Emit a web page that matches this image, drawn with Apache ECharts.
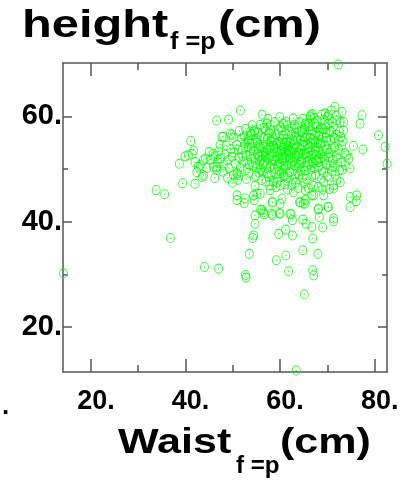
<!DOCTYPE html>
<html>
<head>
<meta charset="UTF-8">
<title>height vs waist</title>
<script type="text/javascript" src="https://cdn.jsdelivr.net/npm/echarts@6.0.0/dist/echarts.min.js"></script>
<style>
  html, body { margin: 0; padding: 0; background: #fff; }
</style>
</head>
<body>
<div id="main" style="width:407px;height:489px"></div>
<script type="text/javascript">
// waist (x) and height (y)
var waist = [
  14.2,72.3,63.4,36.8,44.0,47.0,52.8,52.7,53.5,54.2,
  54.7,59.2,61.2,61.8,64.8,68.0,66.9,67.1,65.1,59.7,
  61.2,62.6,66.9,55.9,56.6,58.4,58.4,59.8,60.0,62.3,
  62.6,64.1,64.8,65.3,65.5,66.7,68.0,68.3,69.0,70.1,
  71.3,74.8,76.1,50.9,52.4,54.5,33.8,35.6,41.1,41.7,
  39.9,40.6,41.4,42.0,43.1,43.8,42.4,43.5,38.7,39.4,
  42.0,51.6,56.2,46.6,49.1,48.0,49.8,53.7,57.9,60.4,
  62.5,44.2,45.9,43.8,45.9,48.0,51.2,50.9,52.6,54.4,
  55.8,57.9,58.3,60.4,56.2,58.3,60.0,62.1,54.7,59.3,
  60.7,71.6,73.1,70.2,73.4,72.0,77.3,76.9,80.8,82.2,
  82.6,75.5,77.5,74.5,73.8,66.4,65.3,76.2,74.8,70.2,
  68.1,65.3,64.3,66.7,71.3,62.8,69.2,71.3,72.7,74.8,
  74.1,47.7,49.5,42.7,46.6,46.6,45.3,46.2,47.4,48.3,
  47.0,48.8,49.6,49.2,50.1,50.9,55.1,54.4,56.5,53.3,
  53.9,54.6,55.3,60.7,66.4,66.0,64.6,68.5,71.0,72.7,
  73.4,72.3,73.1,72.0,71.3,67.1,64.9,65.3,68.1,69.2,
  69.5,50.2,50.8,51.3,51.9,50.5,51.6,52.0,50.1,51.4,
  52.3,50.9,52.5,51.0,52.8,53.1,53.5,53.9,52.7,53.4,
  54.0,53.2,53.8,52.9,54.1,53.6,54.4,54.8,55.2,55.6,
  54.6,55.9,55.4,56.0,54.9,55.7,54.3,55.1,55.8,54.7,
  56.3,56.7,57.1,57.5,56.5,57.8,56.9,57.3,57.9,56.2,
  57.6,56.8,57.2,57.7,56.4,57.0,57.4,58.2,58.6,59.0,
  59.4,58.4,59.8,58.8,59.2,59.6,58.1,59.9,58.7,59.3,
  58.5,59.7,58.9,59.1,58.3,60.2,60.5,60.9,61.3,60.7,
  61.7,61.1,60.3,61.5,61.9,60.6,61.4,60.1,61.8,60.8,
  61.2,60.4,61.6,61.0,62.2,62.6,63.0,63.4,62.4,63.8,
  62.9,63.2,63.6,62.1,63.9,62.7,63.5,62.3,63.1,63.7,
  62.8,62.5,64.2,64.6,65.0,65.4,64.4,65.8,64.9,65.2,
  65.6,64.1,65.9,64.7,65.3,64.3,65.7,64.8,65.1,64.5,
  66.2,66.6,67.0,67.4,66.4,67.8,66.9,67.2,67.6,66.1,
  67.9,66.7,67.3,66.3,67.7,66.8,67.1,68.2,68.6,69.0,
  69.4,68.4,69.8,68.9,69.2,69.6,68.1,69.9,68.7,69.3,
  68.5,69.7,70.3,70.7,71.1,70.5,71.5,70.9,71.8,70.2,
  71.3,71.7,72.4,72.9,73.3,72.6,73.7,
  55.3,55.9,56.4,56.9,57.3,57.8,58.3,58.7,59.2,59.6,
  60.1,60.5,60.9,61.3,61.7,62.1,62.6,63.0,63.4,63.8,
  64.2,64.6,65.0,65.4,65.8,66.2,66.6,67.0,67.4,67.8,
  68.2,68.6,69.0,69.4,69.8,70.2,70.6,71.0,71.4,71.9,
  56.1,57.3,58.6,59.5,60.9,62.0,63.3,64.0,65.6,66.5,
  67.5,68.8,70.0,70.4,69.0,66.0,63.8,61.6,60.0,57.8,
  55.0,56.6,58.0,59.0,60.4,61.9,63.2,64.0,65.2,66.1,
  67.2,68.0,68.8,70.0,70.8,71.9,63.0,61.5,59.9,57.2,
  52.1,53.0,54.2,54.6,55.5,56.0,52.4,53.7,55.6,51.1,
  60.0,61.0,62.0,63.0,64.0,65.0,66.0,67.0,68.0,69.0,
  59.5,60.6,62.8,64.4,66.8,68.3,58.0,57.0,61.2,62.9,
  64.8,66.5,68.2,69.6,70.8,71.2,72.2,72.5,73.0,72.8,
  45.0,46.8,47.9,48.6,49.8,44.5,47.3,48.9,49.9,46.2
];
var height = [
  30.2,69.8,11.8,36.9,31.4,31.1,29.4,29.9,33.9,36.9,
  39.6,32.7,33.6,30.6,34.6,33.9,30.8,29.8,26.2,37.7,
  38.5,37.4,36.8,42.3,41.4,41.2,43.7,41.6,43.4,41.4,
  40.3,43.7,40.4,43.4,39.6,39.0,42.3,40.9,38.9,42.8,
  40.1,42.8,43.9,44.1,43.5,44.1,46.0,45.2,55.3,53.5,
  52.4,52.6,52.9,51.3,50.7,51.7,49.4,48.5,51.0,47.3,
  47.2,61.1,60.3,59.2,59.4,56.1,56.4,57.0,58.3,57.3,
  57.7,52.0,52.9,48.8,50.4,50.7,48.8,45.0,44.4,45.0,
  45.3,46.0,43.7,44.4,42.2,41.5,41.5,41.5,41.2,47.5,
  48.8,61.8,60.8,60.2,58.9,59.2,60.2,58.6,56.4,54.2,
  51.0,54.4,53.7,52.0,50.7,59.9,58.6,45.0,44.7,42.8,
  42.5,44.1,43.7,45.0,40.6,45.6,47.5,46.3,47.5,50.1,
  52.6,56.1,56.7,50.4,49.8,50.4,51.8,52.4,52.0,52.8,
  53.3,51.6,53.8,50.2,48.8,49.1,45.3,37.4,41.8,55.6,
  56.7,57.3,56.9,58.6,60.2,58.6,57.3,57.7,58.9,58.9,
  57.3,55.4,49.8,47.9,46.9,45.0,43.4,46.0,46.6,45.0,
  60.5,53.1,54.6,52.2,55.8,51.0,50.3,53.7,55.9,57.2,
  51.4,49.2,54.9,47.9,52.6,55.2,50.8,53.9,57.6,49.3,
  51.9,54.1,56.4,48.1,58.3,52.8,53.5,51.1,55.0,52.3,
  57.1,49.8,53.9,56.2,48.7,51.6,54.9,50.2,58.4,46.8,
  53.0,51.4,54.6,52.1,55.9,50.3,57.4,53.6,55.2,49.5,
  48.6,52.5,51.0,56.8,54.2,47.6,59.5,52.9,54.3,51.5,
  53.3,56.0,55.1,50.2,52.4,57.5,48.9,49.6,53.8,54.8,
  51.7,52.0,58.9,46.6,55.2,53.4,51.8,54.9,52.6,56.3,
  50.7,53.1,49.2,55.7,52.0,54.0,48.3,57.9,54.4,50.6,
  59.0,52.7,53.8,47.1,53.2,51.4,54.7,52.5,56.5,50.2,
  53.9,49.0,55.6,55.0,53.1,48.0,57.8,51.0,52.0,54.2,
  59.6,46.9,53.6,52.0,55.2,53.0,57.0,51.3,54.3,49.7,
  56.4,50.8,53.9,48.4,58.3,55.5,52.2,59.5,47.3,51.6,
  54.1,52.5,55.6,53.4,57.4,51.6,54.8,50.1,56.9,50.9,
  54.0,48.7,58.6,55.9,52.7,60.4,46.8,53.3,55.0,52.2,
  54.4,57.2,50.8,56.1,49.4,58.0,51.3,53.7,48.2,59.3,
  54.6,55.9,53.0,55.5,51.7,57.3,54.2,49.6,56.5,52.2,
  58.0,48.9,53.6,51.2,55.3,49.8,53.0,
  52.7,54.1,50.9,53.3,55.7,52.6,50.8,55.6,53.9,51.0,
  54.6,52.2,50.0,55.1,53.3,51.9,54.0,50.7,55.9,52.8,
  51.2,54.7,50.3,56.0,54.6,52.0,56.6,51.1,55.1,57.9,
  50.5,52.8,57.6,51.8,55.3,58.6,50.6,53.9,55.9,52.4,
  47.9,49.1,47.7,48.4,48.6,49.4,47.5,48.9,48.1,49.9,
  48.9,49.8,48.6,46.2,46.1,46.3,46.4,46.1,46.9,46.9,
  55.8,57.8,57.2,56.6,55.7,57.1,56.9,58.9,57.5,58.0,
  59.7,59.1,60.3,59.9,61.1,60.1,58.4,58.3,59.8,58.6,
  52.4,50.1,50.6,52.1,49.3,51.8,56.2,54.8,54.5,53.6,
  53.0,52.0,53.6,53.1,52.4,52.9,53.2,52.9,54.9,53.4,
  50.5,49.9,50.0,49.6,51.3,51.9,54.0,52.3,56.6,55.4,
  56.2,55.0,56.2,56.9,57.0,50.4,52.0,57.1,54.4,56.1,
  53.2,51.2,49.5,54.4,52.3,50.2,54.6,48.3,47.4,48.3
];

var xMajor = [20, 40, 60, 80];
var xMinor = [30, 50, 70];
var yMajor = [20, 40, 60];
var yMinor = [30, 50];

var xRange = [14.1, 82.6];
var yRange = [11.5, 70.1];

var font = '"Liberation Sans", Arial, sans-serif';
var lineColor = '#555';
var green = '#00ff00';

// one axis = one side of the frame with one set of ticks
function axis(pos, range, ticks, len, showLine, label) {
  return {
    type: 'value',
    position: pos,
    min: range[0],
    max: range[1],
    splitLine: { show: false },
    axisLine: { show: showLine, onZero: false, lineStyle: { color: lineColor, width: 1.5 } },
    axisTick: { show: true, inside: true, length: len, customValues: ticks,
                lineStyle: { color: lineColor, width: 1.5 } },
    axisLabel: label ? label : { show: false }
  };
}

var xLabel = {
  show: true, customValues: xMajor, margin: 16,
  formatter: function (v) { return v + '.'; },
  color: '#000', fontFamily: font, fontWeight: 'bold', fontSize: 27,
  padding: [0, 0, 0, 10]
};
var yLabel = {
  show: true, customValues: yMajor, margin: 1,
  formatter: function (v) { return v + '.'; },
  color: '#000', fontFamily: font, fontWeight: 'bold', fontSize: 29
};

var pts = waist.map(function (w, i) { return [w, height[i]]; });

function txt(s, x, y, size, sx) {
  return { type: 'text', x: x, y: y, scaleX: sx,
           style: { text: s, font: 'bold ' + size + 'px ' + font, fill: '#000', verticalAlign: 'middle' } };
}

var myChart = echarts.init(document.getElementById('main'));
var option = {
  animation: false,
  backgroundColor: '#fff',
  grid: { left: 63, right: 20, top: 63, bottom: 117 },
  xAxis: [
    axis('bottom', xRange, xMajor, 13, true, xLabel),
    axis('bottom', xRange, xMinor, 7, false),
    axis('top', xRange, xMajor, 13, true),
    axis('top', xRange, xMinor, 7, false)
  ],
  yAxis: [
    axis('left', yRange, yMajor, 9, true, yLabel),
    axis('left', yRange, yMinor, 5, false),
    axis('right', yRange, yMajor, 9, true),
    axis('right', yRange, yMinor, 5, false)
  ],
  graphic: [
    txt('height', 22, 26, 39, 1.25),
    txt('f =p', 170, 43, 23, 1.1),
    txt('(cm)', 218, 26, 39, 1.25),
    txt('Waist', 118, 443, 35, 1.23),
    txt('f =p', 236, 467, 23, 1.05),
    txt('(cm)', 280, 443, 35, 1.23),
    txt('.', 2, 407, 26, 1)
  ],
  series: [
    {
      type: 'scatter',
      data: pts,
      clip: false,
      symbol: 'circle',
      symbolSize: [8, 9],
      itemStyle: { color: 'rgba(0,0,0,0)', borderColor: green, borderWidth: 1 }
    },
    {
      type: 'scatter',
      data: pts,
      clip: false,
      symbol: 'circle',
      symbolSize: 1.5,
      itemStyle: { color: green }
    }
  ]
};
myChart.setOption(option);
</script>
</body>
</html>
